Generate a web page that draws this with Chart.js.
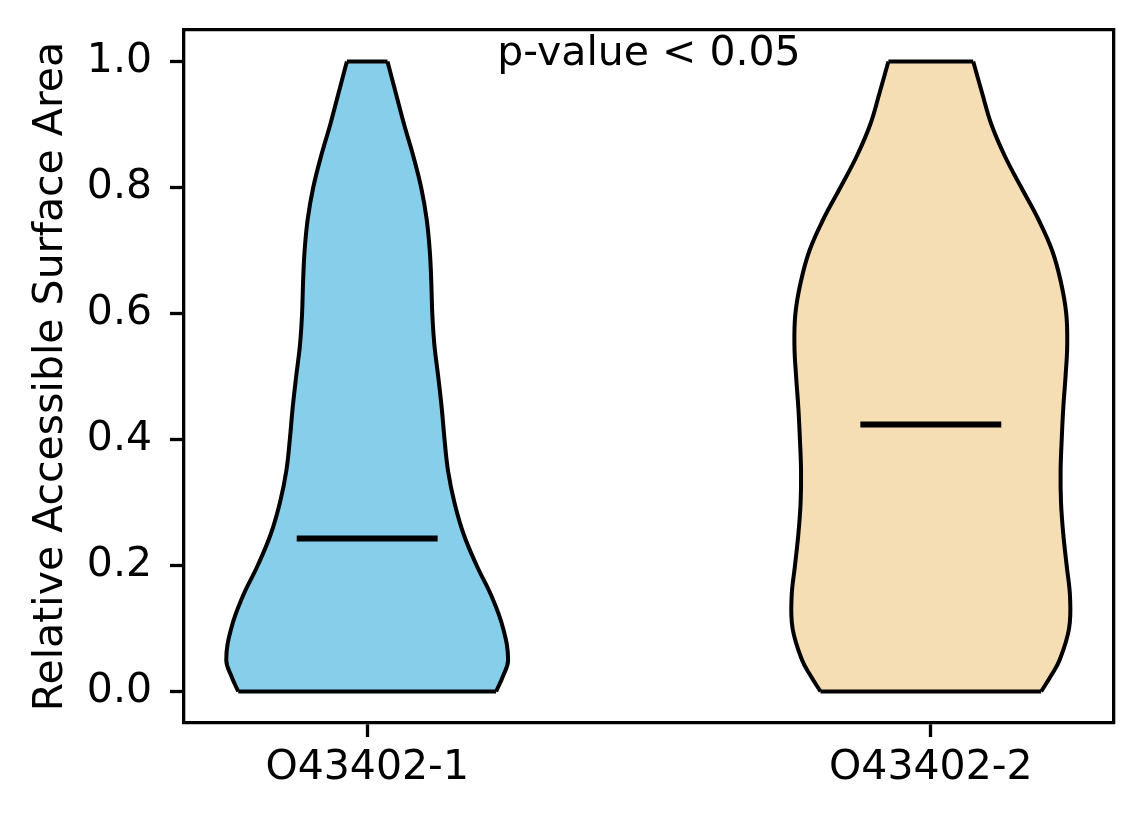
<!DOCTYPE html>
<html>
<head>
<meta charset="utf-8">
<script src="https://cdn.jsdelivr.net/npm/chart.js@4.4.0/dist/chart.umd.min.js"></script>
<style>
  html, body { margin: 0; padding: 0; background: #fff; }
  #chart { display: block; }
</style>
</head>
<body>
<canvas id="chart" width="1144" height="824"></canvas>
<script>
// one violin per category
const categories = ['O43402-1', 'O43402-2'];

// y levels at which the outlines were read
const levels = [0, 0.025, 0.05, 0.1, 0.15, 0.2, 0.25, 0.3, 0.35, 0.4, 0.45,
  0.5, 0.55, 0.6, 0.65, 0.7, 0.75, 0.8, 0.85, 0.9, 0.95, 1.0];

// relative density at each level (1 = widest point of the violin)
const density1 = [0.915, 0.965, 1.0, 0.965, 0.885, 0.777, 0.684, 0.619, 0.574, 0.549, 0.529,
  0.504, 0.477, 0.462, 0.455, 0.444, 0.422, 0.383, 0.327, 0.262, 0.203, 0.144];
const density2 = [0.783, 0.853, 0.914, 0.981, 0.988, 0.964, 0.940, 0.924, 0.921, 0.929, 0.940,
  0.956, 0.968, 0.961, 0.923, 0.861, 0.762, 0.642, 0.525, 0.430, 0.364, 0.301];

const means = [0.243, 0.424];
const yTicks = [0, 0.2, 0.4, 0.6, 0.8, 1.0];
const pLabel = 'p-value < 0.05';

const fills = ['#87CEEB', '#F5DEB3'];
const FONT = 'DejaVu Sans';
const HALF = 0.25;   // half width of a violin at its widest, in x units

const datasets = [];
[density1, density2].forEach((dens, i) => {
  const c = i + 1;
  const left = levels.map((y, k) => ({x: c - HALF * dens[k], y: y}));
  const right = levels.map((y, k) => ({x: c + HALF * dens[k], y: y}));
  const side = {
    indexAxis: 'y', tension: 0.4,
    borderColor: '#000', borderWidth: 4, pointRadius: 0
  };
  datasets.push({...side, data: left, fill: '+1', backgroundColor: fills[i]});
  datasets.push({...side, data: right, fill: false});
  // flat bottom and top of the violin
  [0, levels.length - 1].forEach(k => {
    datasets.push({
      data: [{...left[k]}, {...right[k]}],
      borderColor: '#000', borderWidth: 4, pointRadius: 0, fill: false
    });
  });
});
means.forEach((m, i) => {
  datasets.push({
    data: [{x: i + 1 - HALF / 2, y: m}, {x: i + 1 + HALF / 2, y: m}],
    borderColor: '#000', borderWidth: 6, pointRadius: 0, fill: false
  });
});

const tickFont = {family: FONT, size: 41};
const axisTicks = {display: true, drawOnChartArea: false, drawTicks: true,
  tickLength: 14, tickWidth: 3.3, tickColor: '#000'};
const axisBorder = {display: true, color: '#000', width: 3.3};

// fixed box sizes, no extra label padding
const fitBox = (w, h) => s => {
  if (w !== null) s.width = w;
  if (h !== null) s.height = h;
  s.paddingTop = 0; s.paddingBottom = 0; s.paddingLeft = 0; s.paddingRight = 0;
};

// p-value note inside the plot
const pText = {
  id: 'pText',
  afterDatasetsDraw(chart) {
    const {ctx, scales: {x, y}} = chart;
    ctx.save();
    ctx.font = '41px "' + FONT + '"';
    ctx.fillStyle = '#000';
    ctx.textAlign = 'center';
    ctx.textBaseline = 'alphabetic';
    ctx.fillText(pLabel, x.getPixelForValue(1.5), y.getPixelForValue(1.0) + 3);
    ctx.restore();
  }
};

new Chart(document.getElementById('chart'), {
  type: 'line',
  data: {datasets: datasets},
  options: {
    responsive: false,
    animation: false,
    devicePixelRatio: 1,
    layout: {padding: 0},
    plugins: {
      legend: {display: false},
      tooltip: {enabled: false},
      filler: {drawTime: 'beforeDatasetsDraw'}
    },
    scales: {
      x: {
        type: 'linear', position: 'bottom', min: 0.675, max: 2.325,
        afterBuildTicks: s => { s.ticks = categories.map((_, i) => ({value: i + 1})); },
        ticks: {callback: v => categories[Math.round(v) - 1], font: tickFont, color: '#000',
          padding: 7, maxRotation: 0, autoSkip: false},
        grid: axisTicks,
        border: axisBorder,
        afterFit: fitBox(null, 101)
      },
      y: {
        type: 'linear', position: 'left', min: -0.05, max: 1.05,
        afterBuildTicks: s => { s.ticks = yTicks.map(v => ({value: v})); },
        ticks: {callback: v => v.toFixed(1), font: tickFont, color: '#000', padding: 18},
        grid: axisTicks,
        border: axisBorder,
        title: {display: true, text: 'Relative Accessible Surface Area', font: tickFont,
          color: '#000', padding: {top: 27, bottom: 0}},
        afterFit: fitBox(184, null)
      },
      x2: {
        type: 'linear', axis: 'x', position: 'top',
        ticks: {display: false}, grid: {display: false}, border: axisBorder,
        afterFit: fitBox(null, 30)
      },
      y2: {
        type: 'linear', axis: 'y', position: 'right',
        ticks: {display: false}, grid: {display: false}, border: axisBorder,
        afterFit: fitBox(30, null)
      }
    }
  },
  plugins: [pText]
});
</script>
</body>
</html>
